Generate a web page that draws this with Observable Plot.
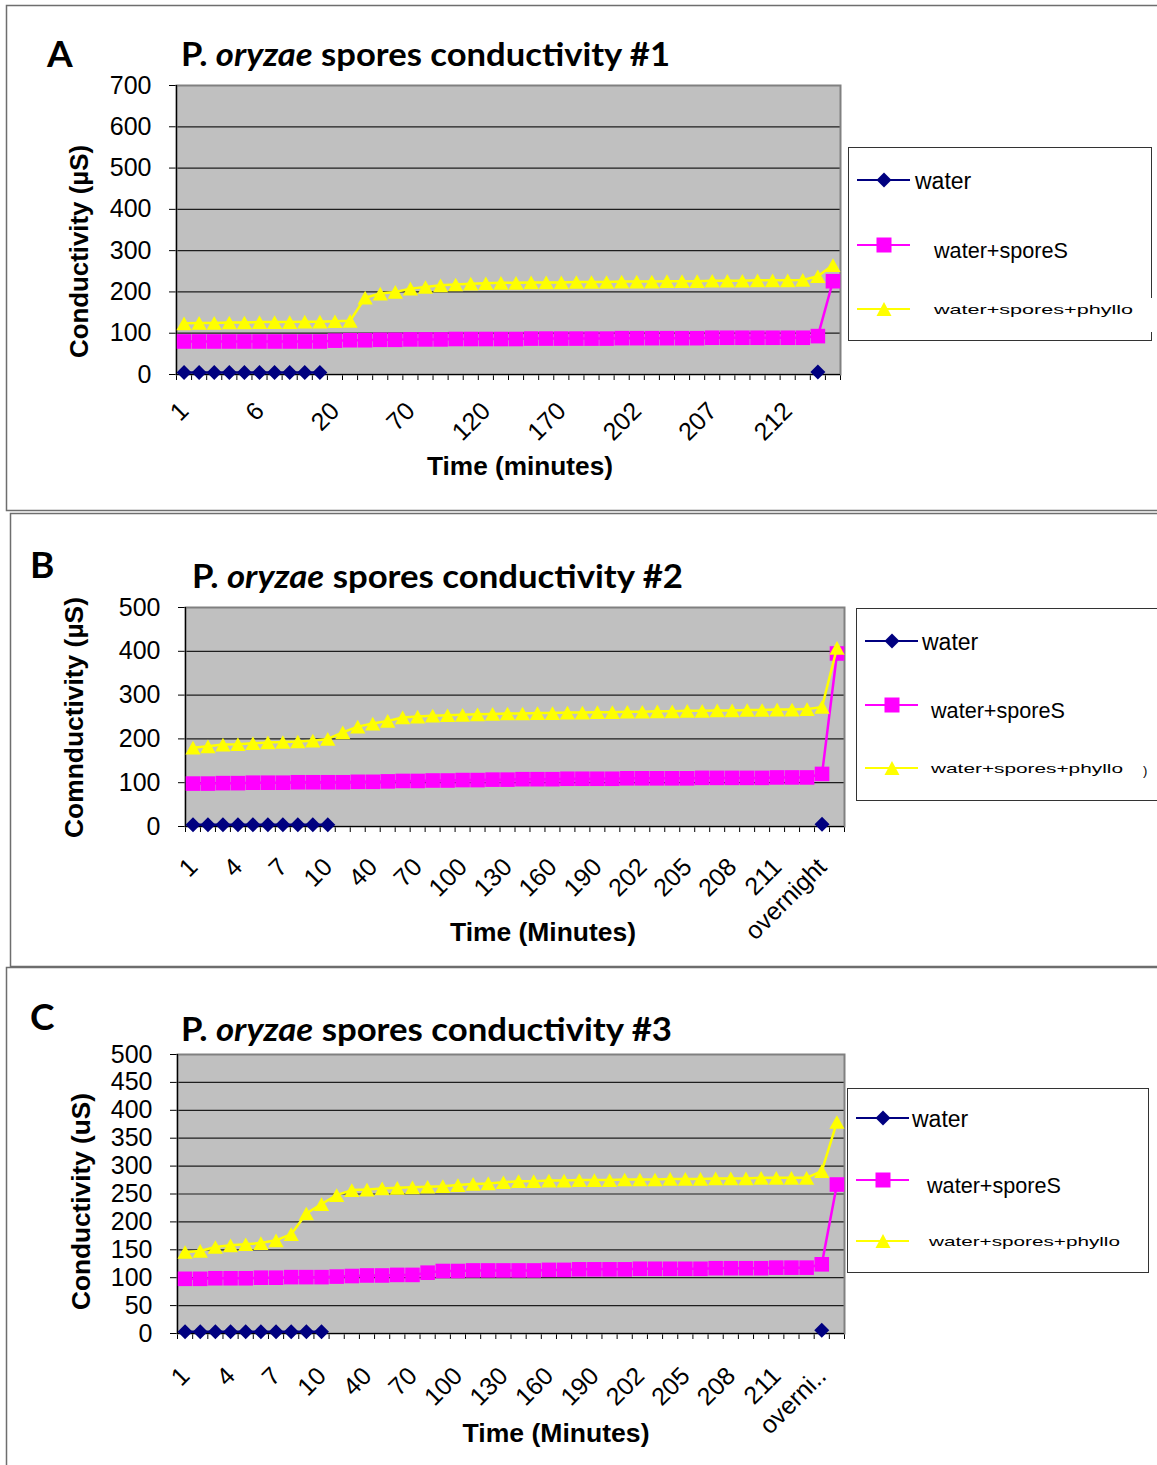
<!DOCTYPE html>
<html><head><meta charset="utf-8">
<script src="https://cdn.jsdelivr.net/npm/d3@7"></script>
<script src="https://cdn.jsdelivr.net/npm/@observablehq/plot@0.6"></script>
<style>
body{margin:0;background:#fff;}
#fig{position:relative;width:1157px;height:1465px;overflow:hidden;background:#fff;}
#fig > svg{position:absolute;}
</style></head>
<body><div id="fig"></div>
<script>
// ---------- categories (time points) ----------
const times = ["1","2","3","4","5","6","7","8","9","10",
  "20","30","40","50","60","70","80","90","100","110","120","130","140","150","160","170","180","190","200",
  "201","202","203","204","205","206","207","208","209","210","211","212","213","overnight","overnight+"];

// tick labels shown on each panel
const tickLabelsA = ["1","6","20","70","120","170","202","207","212"];
const tickLabelsB = ["1","4","7","10","40","70","100","130","160","190","202","205","208","211","overnight"];
const tickLabelsC = ["1","4","7","10","40","70","100","130","160","190","202","205","208","211","overnight"];

const seriesNames = ["water","water+sporeS","water+spores+phyllo"];
const seriesColors = ["#000080","#ff00ff","#ffff00"];

// ---------- panel A values ----------
const waterA = [5,5,5,5,5,5,5,5,5,5,
  null,null,null,null,null,null,null,null,null,null,null,null,null,null,null,null,
  null,null,null,null,null,null,null,null,null,null,null,null,null,null,null,null,
  6,null];
const sporesA = [80,80,80,80,80,80,80,80,80,80,
  82,83,83,84,84,85,85,85,86,86,86,
  86,86,87,87,87,87,87,87,88,88,88,88,88,88,89,89,89,89,89,89,89,
  93,226];
const phylloA = [124,125,125,126,126,127,127,127,128,128,129,130,
  186,196,200,208,212,216,218,220,221,
  222,222,223,223,223,224,224,224,225,225,225,226,226,226,227,227,227,228,228,228,229,
  238,265];

// ---------- panel B values ----------
const waterB = [4,4,4,4,4,4,4,4,4,4,
  null,null,null,null,null,null,null,null,null,null,null,null,null,null,null,null,
  null,null,null,null,null,null,null,null,null,null,null,null,null,null,null,null,
  5,null];
const sporesB = [98,98,99,99,100,100,100,101,101,101,
  101,102,102,103,104,104,105,105,106,106,107,107,
  108,108,108,109,109,109,109,110,110,110,110,110,111,111,111,111,111,112,112,112,
  120,395];
const phylloB = [180,183,187,188,190,192,193,194,196,200,
  215,228,235,241,249,251,253,254,255,256,257,258,
  258,259,259,260,260,261,261,262,262,263,263,264,264,265,265,266,266,267,267,268,
  273,408];

// ---------- panel C values ----------
const waterC = [3,3,3,3,3,3,3,3,3,3,
  null,null,null,null,null,null,null,null,null,null,null,null,null,null,null,null,
  null,null,null,null,null,null,null,null,null,null,null,null,null,null,null,null,
  6,null];
const sporesC = [98,98,99,99,99,100,100,101,101,101,102,
  103,104,104,105,105,109,112,112,113,113,113,
  113,113,114,114,115,115,115,115,116,116,116,116,116,117,117,117,117,118,118,118,
  124,267];
const phylloC = [146,148,155,158,160,162,167,178,215,232,248,257,258,260,261,262,263,264,266,268,269,271,
  273,273,274,274,275,275,275,276,276,276,277,277,277,278,278,278,279,279,279,279,
  291,379];

const yTicksA = [0,100,200,300,400,500,600,700];
const yTicksB = [0,100,200,300,400,500];
const yTicksC = [0,50,100,150,200,250,300,350,400,450,500];

// ---------- marker symbols (Excel-like) ----------
function sym(kind){
  return {draw(ctx, size){
    const r = Math.sqrt(size/Math.PI);
    if (kind === "diamond"){ctx.moveTo(0,-r);ctx.lineTo(r,0);ctx.lineTo(0,r);ctx.lineTo(-r,0);ctx.closePath();}
    else if (kind === "square"){ctx.rect(-r,-r,2*r,2*r);}
    else {ctx.moveTo(0,-0.9*r);ctx.lineTo(r,0.9*r);ctx.lineTo(-r,0.9*r);ctx.closePath();}
  }};
}
const symbols = [sym("diamond"), sym("square"), sym("triangle")];
const symbolR = [7.5, 7.3, 7.6];

function rows(values){
  return values.map((v,i)=>({i, v: v == null ? NaN : v}));
}

function panel(cfg){
  const seriesMarks = [];
  cfg.series.forEach((vals, k) => {
    const data = rows(vals);
    seriesMarks.push(Plot.line(data, {x: d => d.i + 0.5, y: "v", stroke: seriesColors[k], strokeWidth: 2.5}));
    seriesMarks.push(Plot.dot(data.filter(d => !isNaN(d.v)), {x: d => d.i + 0.5, y: "v", symbol: symbols[k], r: symbolR[k], fill: seriesColors[k], stroke: "none"}));
  });
  const labelData = cfg.labels.map(l => ({key: l, label: cfg.fmt ? cfg.fmt(l) : l}));
  const svg = Plot.plot({
    width: cfg.width, height: cfg.height,
    marginLeft: cfg.ml, marginRight: cfg.mr, marginTop: cfg.mt, marginBottom: cfg.mb,
    style: {background: "transparent", fontFamily: "'Liberation Sans', Arial, sans-serif", fontSize: "25px", color: "#000"},
    x: {type: "linear", domain: [0, times.length], ticks: d3.range(times.length + 1), tickFormat: () => "", tickSize: 6, label: null},
    y: {domain: [0, cfg.ymax], ticks: cfg.yTicks, tickSize: 7, tickPadding: 18, label: null},
    marks: [
      Plot.frame({fill: "#c0c0c0", stroke: "none"}),
      Plot.ruleY(cfg.yTicks.filter(t => t > 0), {stroke: "#1e1e1e", strokeWidth: 1.2}),
      Plot.frame({stroke: "#808080", strokeWidth: 2}),
      Plot.ruleX([0], {stroke: "#000", strokeWidth: 1.2}),
      Plot.ruleY([0], {stroke: "#000", strokeWidth: 1.2}),
      Plot.text(labelData, {x: d => times.indexOf(d.key) + 0.5, frameAnchor: "bottom", text: "label",
        rotate: -45, textAnchor: "end", lineAnchor: "bottom", dx: cfg.ldx, dy: cfg.ldy, fontSize: 25}),
      ...seriesMarks
    ]
  });
  svg.style.left = "0px";
  svg.style.top = cfg.top + "px";
  return svg;
}

const fig = document.getElementById("fig");

// ---------- static decorations: panel boxes, titles, axis titles, legends ----------
function legend(x0, y0, w, h, rowsY, textX, lineX, right){
  const [y1,y2,y3] = rowsY;
  const cx = lineX + 27;
  return `
  <rect x="${x0}" y="${y0}" width="${w}" height="${h}" fill="#fff" stroke="#333" stroke-width="1"/>
  <line x1="${lineX}" x2="${lineX+53}" y1="${y1}" y2="${y1}" stroke="#000080" stroke-width="2"/>
  <path d="M${cx},${y1-7.5}L${cx+7.5},${y1}L${cx},${y1+7.5}L${cx-7.5},${y1}Z" fill="#000080"/>
  <text x="${textX[0]}" y="${y1+9}" font-size="23">water</text>
  <line x1="${lineX}" x2="${lineX+53}" y1="${y2}" y2="${y2}" stroke="#ff00ff" stroke-width="2"/>
  <rect x="${cx-7.5}" y="${y2-7.5}" width="15" height="15" fill="#ff00ff"/>
  <text x="${textX[1]}" y="${y2+13}" font-size="22" textLength="134" lengthAdjust="spacingAndGlyphs">water+sporeS</text>
  <line x1="${lineX}" x2="${lineX+53}" y1="${y3}" y2="${y3}" stroke="#ffff00" stroke-width="2"/>
  <path d="M${cx},${y3-7}L${cx+7.5},${y3+7}L${cx-7.5},${y3+7}Z" fill="#ffff00"/>
  <text x="${textX[2]}" y="${y3+5}" font-size="13" textLength="${right}" lengthAdjust="spacingAndGlyphs">water+spores+phyllo</text>`;
}

const deco = `
<svg width="1157" height="1465" style="left:0;top:0" font-family="'Liberation Sans', Arial, sans-serif">
  <path d="M1160,5.5H6.5V510.5H1160" fill="none" stroke="#6e6e6e" stroke-width="1.5"/>
  <path d="M1160,513.5H10.5V966.5H1160" fill="none" stroke="#6e6e6e" stroke-width="1.5"/>
  <path d="M1160,967.5H6.5V1470" fill="none" stroke="#6e6e6e" stroke-width="1.5"/>

  <text x="47" y="67" font-family="Lato" font-weight="700" font-size="37">A</text>
  <text x="30" y="578" font-family="Lato" font-weight="700" font-size="37">B</text>
  <text x="30" y="1030" font-family="Lato" font-weight="700" font-size="37">C</text>

  <text x="181" y="66" font-family="Lato" font-weight="700" font-size="32" textLength="489" lengthAdjust="spacingAndGlyphs">P. <tspan font-style="italic">oryzae</tspan> spores conductivity #1</text>
  <text x="192" y="588" font-family="Lato" font-weight="700" font-size="32" textLength="491" lengthAdjust="spacingAndGlyphs">P. <tspan font-style="italic">oryzae</tspan> spores conductivity #2</text>
  <text x="181" y="1041" font-family="Lato" font-weight="700" font-size="32" textLength="491" lengthAdjust="spacingAndGlyphs">P. <tspan font-style="italic">oryzae</tspan> spores conductivity #3</text>

  <text transform="translate(88,251.5) rotate(-90)" text-anchor="middle" font-weight="700" font-size="26" textLength="213" lengthAdjust="spacingAndGlyphs">Conductivity (µS)</text>
  <text transform="translate(83,717.5) rotate(-90)" text-anchor="middle" font-weight="700" font-size="26" textLength="241" lengthAdjust="spacingAndGlyphs">Comnductivity (µS)</text>
  <text transform="translate(90,1201.5) rotate(-90)" text-anchor="middle" font-weight="700" font-size="26" textLength="217" lengthAdjust="spacingAndGlyphs">Conductivity (uS)</text>

  <text x="520" y="475" text-anchor="middle" font-weight="700" font-size="26" textLength="186" lengthAdjust="spacingAndGlyphs">Time (minutes)</text>
  <text x="543" y="941" text-anchor="middle" font-weight="700" font-size="26" textLength="186" lengthAdjust="spacingAndGlyphs">Time (Minutes)</text>
  <text x="556" y="1442" text-anchor="middle" font-weight="700" font-size="26" textLength="187" lengthAdjust="spacingAndGlyphs">Time (Minutes)</text>

  ${legend(848.5, 147.5, 303, 193, [180, 245, 309], [915, 934, 934], 857, 199)}
  <rect x="1144" y="298" width="13" height="34" fill="#fff"/>
  ${legend(856.5, 608.5, 320, 192, [641, 705, 768], [922, 931, 931], 865, 192)}
  <text x="1143" y="775" font-size="13">)</text>
  ${legend(847.5, 1088.5, 301, 184, [1118, 1180, 1241], [912, 927, 929], 856, 191)}
</svg>`;
fig.insertAdjacentHTML("beforeend", deco);

fig.appendChild(panel({top: 50, width: 850, height: 424, ml: 176, mr: 10, mt: 35, mb: 100,
  ymax: 700, yTicks: yTicksA, labels: tickLabelsA, ldx: 6, ldy: 38,
  series: [waterA, sporesA, phylloA]}));
fig.appendChild(panel({top: 580, width: 856, height: 366, ml: 185, mr: 12, mt: 27, mb: 120,
  ymax: 500, yTicks: yTicksB, labels: tickLabelsB, ldx: 6, ldy: 42,
  series: [waterB, sporesB, phylloB]}));
fig.appendChild(panel({top: 1030, width: 856, height: 423, ml: 177, mr: 12, mt: 24, mb: 120,
  ymax: 500, yTicks: yTicksC, labels: tickLabelsC, ldx: 6, ldy: 44,
  fmt: l => l.length > 7 ? l.slice(0, 6) + ".." : l,
  series: [waterC, sporesC, phylloC]}));
</script>
</body></html>
